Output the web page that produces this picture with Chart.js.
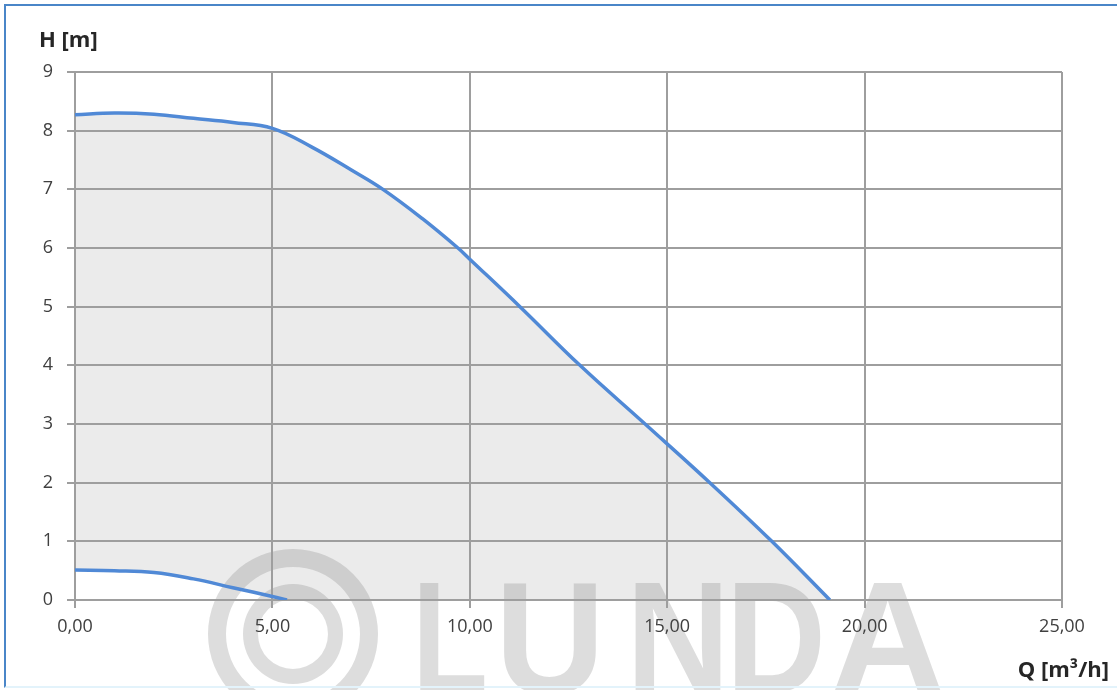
<!DOCTYPE html>
<html>
<head>
<meta charset="utf-8">
<script src="https://cdn.jsdelivr.net/npm/chart.js@4.4.1/dist/chart.umd.min.js"></script>
<style>
  html, body { margin:0; padding:0; background:#ffffff; overflow:hidden; }
  #wrap { position:relative; width:1117px; height:690px; }
  #frame { position:absolute; left:4px; top:4px; width:1130px; height:680px; border:2px solid #4a86c8; border-bottom-color:#e3f3fb; pointer-events:none; }
  canvas { position:absolute; left:0; top:0; }
</style>
</head>
<body>
<div id="wrap">
  <canvas id="c" width="1117" height="690"></canvas>
  <div id="frame"></div>
</div>
<script>
// Pump curve (max speed): flow Q [m3/h] and head H [m]
const qMax = [0, 1, 2, 3, 4, 5, 6, 7, 7.8, 8.8, 9.7, 10, 11.27, 12.79, 14.44, 16.08, 17.65, 19.12];
const hMax = [8.27, 8.30, 8.28, 8.21, 8.14, 8.04, 7.72, 7.33, 7.0, 6.5, 6.0, 5.81, 5.0, 4.0, 3.0, 2.0, 1.0, 0];
// Pump curve (min speed)
const qMin = [0, 1, 2, 3, 4, 5, 5.37];
const hMin = [0.51, 0.50, 0.47, 0.36, 0.21, 0.06, 0];
// Tick labels
const xTickLabels = ['0,00', '5,00', '10,00', '15,00', '20,00', '25,00'];
const yTickLabels = ['0', '1', '2', '3', '4', '5', '6', '7', '8', '9'];
const yTitle = 'H [m]';
const xTitle = 'Q [m³/h]';
const watermark = ['L', 'U', 'N', 'D', 'A'];

const toPts = (xs, ys) => xs.map((x, i) => ({ x: x, y: ys[i] }));

const watermarkPlugin = {
  id: 'watermark',
  beforeDraw(chart) {
    const ctx = chart.ctx;
    ctx.save();
    ctx.fillStyle = 'rgba(120,120,120,0.25)';
    // ring logo
    ctx.beginPath();
    ctx.arc(293, 634, 85, 0, Math.PI * 2);
    ctx.arc(293, 634, 67, 0, Math.PI * 2, true);
    ctx.fill();
    ctx.beginPath();
    ctx.arc(293, 634, 50, 0, Math.PI * 2);
    ctx.arc(293, 634, 35, 0, Math.PI * 2, true);
    ctx.fill();
    // letters
    ctx.font = 'bold 160px "Liberation Sans", Arial, sans-serif';
    ctx.textBaseline = 'alphabetic';
    ctx.textAlign = 'left';
    const lefts = [412, 495, 626, 726, 830];
    const widths = [76, 110, 104, 100, 116];
    watermark.forEach((ch, i) => ctx.fillText(ch, lefts[i], 693, widths[i]));
    ctx.restore();
  }
};

const titlesPlugin = {
  id: 'titles',
  afterDraw(chart) {
    const ctx = chart.ctx;
    ctx.save();
    ctx.fillStyle = '#262626';
    ctx.font = 'bold 22px "Open Sans", sans-serif';
    ctx.textBaseline = 'alphabetic';
    ctx.textAlign = 'left';
    ctx.fillText(yTitle, 39, 47);
    ctx.textAlign = 'right';
    ctx.fillText(xTitle, 1109, 677);
    ctx.restore();
  }
};

new Chart(document.getElementById('c'), {
  type: 'line',
  data: {
    datasets: [
      {
        label: 'min',
        data: toPts(qMin, hMin),
        borderColor: '#5089d6',
        borderWidth: 3.5,
        pointRadius: 0,
        tension: 0.4,
        fill: { target: 'origin' },
        backgroundColor: '#ffffff'
      },
      {
        label: 'max',
        data: toPts(qMax, hMax),
        borderColor: '#5089d6',
        borderWidth: 3.5,
        pointRadius: 0,
        tension: 0.4,
        fill: { target: 'origin' },
        backgroundColor: '#ebebeb'
      }
    ]
  },
  options: {
    responsive: false,
    animation: false,
    devicePixelRatio: 1,
    layout: { padding: { left: 0, top: 72, right: 55, bottom: 0 } },
    plugins: {
      legend: { display: false },
      tooltip: { enabled: false },
      filler: { drawTime: 'beforeDraw' }
    },
    scales: {
      x: {
        type: 'linear',
        min: 0, max: 25,
        afterBuildTicks(scale) { scale.ticks = xTickLabels.map((_, i) => ({ value: i * 5 })); },
        afterFit(scale) { scale.height = 90; },
        ticks: {
          color: '#404040',
          font: { family: '"Open Sans", sans-serif', size: 18 },
          padding: 8,
          maxRotation: 0,
          callback: (v, i) => xTickLabels[i]
        },
        grid: { color: '#9e9e9e', lineWidth: 2, tickLength: 8, drawTicks: true },
        border: { color: '#9e9e9e', width: 2 }
      },
      y: {
        type: 'linear',
        min: 0, max: 9,
        afterBuildTicks(scale) { scale.ticks = yTickLabels.map((_, i) => ({ value: i })); },
        afterFit(scale) { scale.width = 75; },
        ticks: {
          color: '#404040',
          font: { family: '"Open Sans", sans-serif', size: 18 },
          padding: 14,
          callback: (v, i) => yTickLabels[i]
        },
        grid: { color: '#9e9e9e', lineWidth: 2, tickLength: 8, drawTicks: true },
        border: { color: '#9e9e9e', width: 2 }
      }
    }
  },
  plugins: [watermarkPlugin, titlesPlugin]
});
</script>
</body>
</html>
